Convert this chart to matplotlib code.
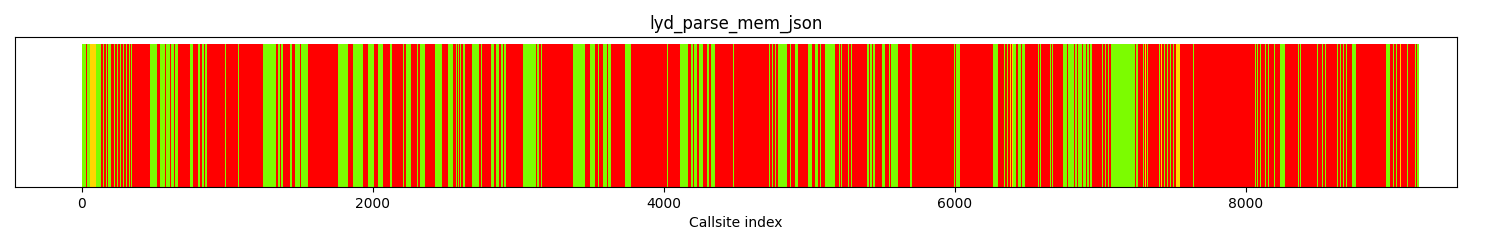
import matplotlib
matplotlib.use('Agg')
import matplotlib.pyplot as plt
import numpy as np

# colour runs over the callsites: (first callsite of run, colour code)
# R = red, G = green, Y = yellow ; a run lasts until the next one starts
n_callsites = 9192
runs = [
    (0, 'G'), (30, 'R'), (34, 'G'), (55, 'Y'), (100, 'G'), (133, 'R'), (143, 'G'),
    (153, 'R'), (164, 'G'), (174, 'R'), (181, 'G'), (191, 'R'), (195, 'G'), (201, 'R'),
    (222, 'G'), (225, 'R'), (243, 'G'), (246, 'R'), (263, 'G'), (266, 'R'),
    (284, 'G'), (287, 'R'), (304, 'G'), (307, 'R'), (325, 'G'), (328, 'R'),
    (339, 'G'), (342, 'R'), (433, 'G'), (436, 'R'), (466, 'G'), (513, 'R'),
    (536, 'G'), (573, 'R'), (578, 'G'), (607, 'R'), (612, 'G'), (634, 'R'), (639, 'G'),
    (662, 'R'), (742, 'G'), (765, 'R'), (799, 'G'), (813, 'R'), (823, 'G'), (837, 'R'),
    (847, 'G'), (861, 'R'), (985, 'G'), (988, 'R'), (1074, 'G'), (1077, 'R'),
    (1246, 'G'), (1337, 'R'), (1349, 'G'), (1360, 'R'), (1370, 'G'), (1384, 'R'),
    (1430, 'G'), (1441, 'R'), (1464, 'G'), (1501, 'R'), (1506, 'G'), (1555, 'R'),
    (1739, 'G'), (1742, 'R'), (1762, 'G'), (1830, 'R'), (1865, 'G'), (1933, 'R'),
    (1968, 'G'), (2009, 'R'), (2036, 'G'), (2071, 'R'), (2117, 'G'), (2133, 'R'),
    (2151, 'G'), (2154, 'R'), (2208, 'G'), (2213, 'R'), (2231, 'G'), (2265, 'R'),
    (2300, 'G'), (2310, 'R'), (2323, 'G'), (2357, 'R'), (2426, 'G'), (2472, 'R'),
    (2518, 'G'), (2552, 'R'), (2573, 'G'), (2576, 'R'), (2587, 'G'), (2595, 'R'),
    (2600, 'G'), (2606, 'R'), (2617, 'G'), (2624, 'R'), (2628, 'G'), (2632, 'R'),
    (2679, 'G'), (2726, 'R'), (2746, 'G'), (2749, 'R'), (2781, 'G'), (2784, 'R'),
    (2815, 'G'), (2834, 'R'), (2847, 'G'), (2865, 'R'), (2878, 'G'), (2892, 'R'),
    (2902, 'G'), (2918, 'R'), (3033, 'G'), (3122, 'R'), (3127, 'G'), (3143, 'R'),
    (3157, 'G'), (3161, 'R'), (3260, 'G'), (3262, 'R'), (3377, 'G'), (3457, 'R'),
    (3491, 'G'), (3526, 'R'), (3549, 'G'), (3553, 'R'), (3583, 'G'), (3606, 'R'),
    (3617, 'G'), (3640, 'R'), (3732, 'G'), (3777, 'R'), (4023, 'G'), (4028, 'R'),
    (4040, 'G'), (4044, 'R'), (4110, 'G'), (4143, 'R'), (4148, 'G'), (4167, 'R'),
    (4186, 'G'), (4201, 'R'), (4206, 'G'), (4229, 'R'), (4243, 'G'), (4270, 'R'),
    (4293, 'G'), (4311, 'R'), (4325, 'G'), (4351, 'R'), (4476, 'G'), (4480, 'R'),
    (4724, 'G'), (4728, 'R'), (4744, 'G'), (4748, 'R'), (4765, 'G'), (4769, 'R'),
    (4786, 'G'), (4843, 'R'), (4868, 'G'), (4872, 'R'), (4900, 'G'), (4923, 'R'),
    (4953, 'G'), (4958, 'R'), (4992, 'G'), (5015, 'R'), (5038, 'G'), (5061, 'R'),
    (5072, 'G'), (5077, 'R'), (5107, 'G'), (5175, 'R'), (5201, 'G'), (5209, 'R'),
    (5219, 'G'), (5227, 'R'), (5267, 'G'), (5271, 'R'), (5289, 'G'), (5292, 'R'),
    (5393, 'G'), (5411, 'R'), (5416, 'G'), (5432, 'R'), (5436, 'G'), (5450, 'R'),
    (5463, 'G'), (5467, 'R'), (5496, 'G'), (5519, 'R'), (5531, 'G'), (5535, 'R'),
    (5549, 'G'), (5553, 'R'), (5564, 'G'), (5610, 'R'), (5691, 'G'), (5702, 'R'),
    (5995, 'G'), (6000, 'R'), (6011, 'G'), (6034, 'R'), (6225, 'G'), (6229, 'R'),
    (6246, 'G'), (6250, 'R'), (6263, 'G'), (6298, 'R'), (6339, 'G'), (6343, 'R'),
    (6360, 'G'), (6364, 'R'), (6380, 'Y'), (6388, 'R'), (6394, 'Y'), (6399, 'G'),
    (6421, 'R'), (6435, 'G'), (6452, 'R'), (6463, 'G'), (6481, 'R'), (6507, 'G'),
    (6512, 'R'), (6528, 'G'), (6532, 'R'), (6573, 'G'), (6578, 'R'), (6586, 'G'),
    (6590, 'R'), (6655, 'G'), (6660, 'R'), (6669, 'G'), (6673, 'R'), (6744, 'G'),
    (6772, 'R'), (6777, 'G'), (6796, 'R'), (6801, 'G'), (6820, 'R'), (6825, 'G'),
    (6836, 'R'), (6848, 'G'), (6875, 'R'), (6881, 'G'), (6899, 'R'), (6905, 'G'),
    (6923, 'R'), (6929, 'G'), (6939, 'R'), (7012, 'G'), (7016, 'R'), (7033, 'G'),
    (7037, 'R'), (7054, 'G'), (7058, 'R'), (7076, 'G'), (7221, 'R'), (7226, 'G'),
    (7239, 'R'), (7244, 'G'), (7260, 'R'), (7294, 'G'), (7302, 'R'), (7308, 'Y'),
    (7314, 'R'), (7322, 'G'), (7328, 'R'), (7365, 'G'), (7368, 'R'), (7404, 'G'),
    (7407, 'R'), (7418, 'Y'), (7421, 'R'), (7439, 'G'), (7443, 'R'), (7459, 'G'),
    (7463, 'R'), (7480, 'G'), (7484, 'R'), (7501, 'G'), (7505, 'R'), (7523, 'Y'),
    (7531, 'G'), (7536, 'Y'), (7544, 'R'), (7581, 'G'), (7584, 'R'), (7638, 'G'),
    (7641, 'R'), (7856, 'G'), (7858, 'R'), (7867, 'G'), (7869, 'R'), (8062, 'G'),
    (8068, 'R'), (8078, 'G'), (8084, 'R'), (8095, 'G'), (8103, 'R'), (8133, 'G'),
    (8137, 'R'), (8154, 'G'), (8158, 'R'), (8195, 'G'), (8198, 'R'), (8236, 'G'),
    (8270, 'R'), (8360, 'G'), (8364, 'R'), (8374, 'G'), (8380, 'R'), (8490, 'G'),
    (8496, 'R'), (8507, 'G'), (8512, 'R'), (8525, 'G'), (8531, 'R'), (8545, 'G'),
    (8550, 'R'), (8628, 'G'), (8632, 'R'), (8648, 'G'), (8652, 'R'), (8669, 'G'),
    (8674, 'R'), (8690, 'G'), (8694, 'R'), (8707, 'G'), (8712, 'R'), (8726, 'G'),
    (8760, 'R'), (8964, 'G'), (8990, 'R'), (9013, 'G'), (9017, 'R'), (9033, 'G'),
    (9037, 'R'), (9061, 'Y'), (9067, 'R'), (9109, 'G'), (9112, 'R'), (9162, 'G'),
    (9172, 'R'), (9176, 'G'),
]

palette = {'R': '#ff0000', 'G': '#7cfc00', 'Y': '#ffd700'}

# expand runs into one colour per callsite
starts = [s for s, _ in runs] + [n_callsites]
colors = []
for i, (start, code) in enumerate(runs):
    colors += [palette[code]] * (starts[i + 1] - start)

fig, ax = plt.subplots(figsize=(15, 2.5), dpi=100)
fig.subplots_adjust(left=0.01, right=0.9713, bottom=0.252, top=0.852)

ax.bar(np.arange(n_callsites), np.ones(n_callsites), width=1.0, color=colors)
ax.set_xlim(-460, 9450)
ax.set_yticks([])
ax.set_title('lyd_parse_mem_json')
ax.set_xlabel('Callsite index')

fig.savefig('out.png', dpi=100)
